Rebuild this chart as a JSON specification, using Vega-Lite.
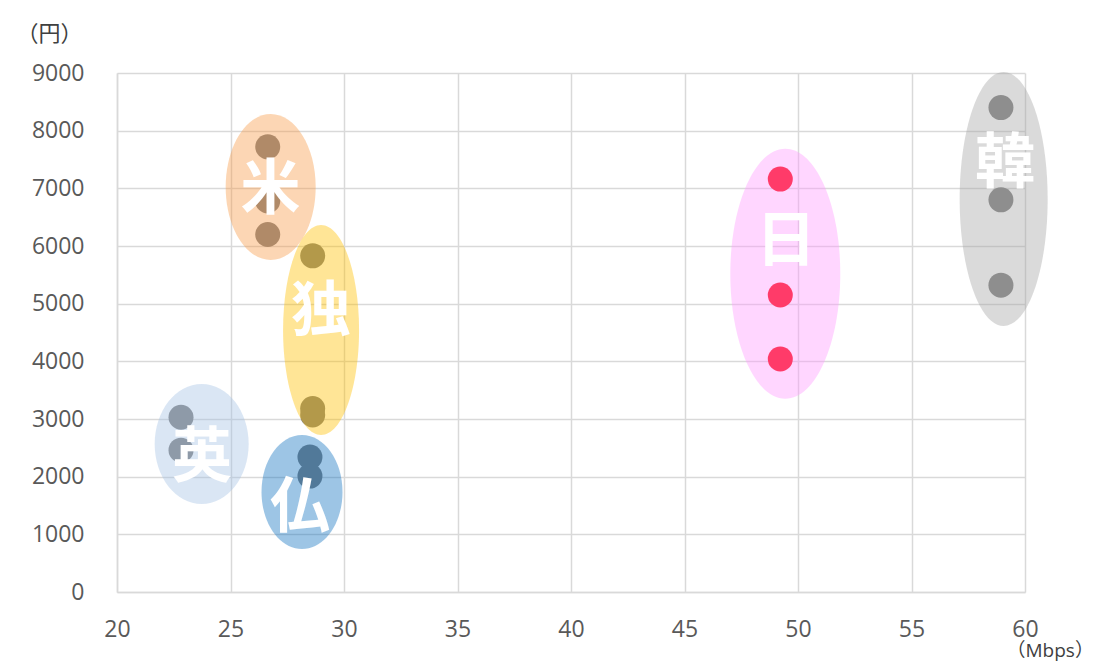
{
  "$schema": "https://vega.github.io/schema/vega-lite/v6.json",
  "width": 908,
  "height": 519,
  "autosize": {"type": "none"},
  "padding": {"left": 117, "top": 73, "right": 70, "bottom": 69},
  "background": "#ffffff",
  "config": {
    "view": {"stroke": null},
    "axis": {
      "grid": true,
      "gridColor": "#D9D9D9",
      "gridWidth": 1.5,
      "domainColor": "#D9D9D9",
      "domainWidth": 1.5,
      "ticks": false,
      "tickSize": 0,
      "labelFlush": false,
      "labelOverlap": false,
      "format": "d",
      "labelFont": "Open Sans",
      "labelFontSize": 23,
      "labelColor": "#595959",
      "titleFont": "Open Sans, Noto Sans CJK JP",
      "titleFontWeight": "normal",
      "titleColor": "#404040"
    }
  },
  "datasets": {
    "carriers": [
      {"country": "米", "speed": 26.64, "price": 7720},
      {"country": "米", "speed": 26.64, "price": 6780},
      {"country": "米", "speed": 26.64, "price": 6200},
      {"country": "独", "speed": 28.62, "price": 5830},
      {"country": "独", "speed": 28.62, "price": 3180},
      {"country": "独", "speed": 28.62, "price": 3070},
      {"country": "英", "speed": 22.82, "price": 3030},
      {"country": "英", "speed": 22.82, "price": 2460},
      {"country": "仏", "speed": 28.5, "price": 2340},
      {"country": "仏", "speed": 28.5, "price": 2010},
      {"country": "日", "speed": 49.22, "price": 7160},
      {"country": "日", "speed": 49.22, "price": 5150},
      {"country": "日", "speed": 49.22, "price": 4040},
      {"country": "韓", "speed": 58.94, "price": 8400},
      {"country": "韓", "speed": 58.94, "price": 6800},
      {"country": "韓", "speed": 58.94, "price": 5320}
    ],
    "groups": [
      {"country": "米", "speed": 26.77, "price": 7023},
      {"country": "独", "speed": 28.99, "price": 4543},
      {"country": "英", "speed": 23.73, "price": 2566},
      {"country": "仏", "speed": 28.15, "price": 1734},
      {"country": "日", "speed": 49.44, "price": 5520},
      {"country": "韓", "speed": 59.06, "price": 6815}
    ],
    "labels": [
      {"country": "米", "speed": 26.76, "price": 7032},
      {"country": "独", "speed": 28.99, "price": 4925},
      {"country": "英", "speed": 23.74, "price": 2393},
      {"country": "仏", "speed": 28.06, "price": 1526},
      {"country": "日", "speed": 49.47, "price": 6139},
      {"country": "韓", "speed": 59.12, "price": 7491}
    ]
  },
  "encoding": {
    "x": {
      "field": "speed",
      "type": "quantitative",
      "scale": {"domain": [20, 60], "nice": false, "zero": false},
      "axis": {
        "values": [20, 25, 30, 35, 40, 45, 50, 55, 60],
        "labelPadding": 26,
        "title": "（Mbps）",
        "titleFontSize": 19,
        "titleAlign": "left",
        "titleBaseline": "alphabetic",
        "titleAnchor": "start",
        "titleX": 889,
        "titleY": 64
      }
    },
    "y": {
      "field": "price",
      "type": "quantitative",
      "scale": {"domain": [0, 9000], "nice": false},
      "axis": {
        "values": [0, 1000, 2000, 3000, 4000, 5000, 6000, 7000, 8000, 9000],
        "labelPadding": 33,
        "title": "（円）",
        "titleFontSize": 22,
        "titleAngle": 0,
        "titleAlign": "left",
        "titleBaseline": "alphabetic",
        "titleAnchor": "start",
        "titleX": -101,
        "titleY": -33
      }
    }
  },
  "layer": [
    {
      "data": {"name": "carriers"},
      "transform": [{"filter": "datum.country !== '日'"}],
      "mark": {"type": "point", "shape": "circle", "filled": true, "size": 625, "color": "#7F7F7F", "opacity": 1, "strokeWidth": 0}
    },
    {
      "data": {"name": "groups"},
      "mark": {"type": "point", "filled": true, "size": 4, "opacity": 0.41, "strokeWidth": 0},
      "encoding": {
        "shape": {
          "field": "country",
          "type": "nominal",
          "legend": null,
          "scale": {
            "domain": ["米", "独", "英", "仏", "日", "韓"],
            "range": [
              "M-45,0A45,73,0,1,0,45,0A45,73,0,1,0,-45,0Z",
              "M-38,0A38,105,0,1,0,38,0A38,105,0,1,0,-38,0Z",
              "M-47,0A47,60,0,1,0,47,0A47,60,0,1,0,-47,0Z",
              "M-40.5,0A40.5,57,0,1,0,40.5,0A40.5,57,0,1,0,-40.5,0Z",
              "M-55,0A55,125,0,1,0,55,0A55,125,0,1,0,-55,0Z",
              "M-44,0A44,127,0,1,0,44,0A44,127,0,1,0,-44,0Z"
            ]
          }
        },
        "color": {
          "field": "country",
          "type": "nominal",
          "legend": null,
          "scale": {
            "domain": ["米", "独", "英", "仏", "日", "韓"],
            "range": ["#F79B48", "#FFBF00", "#A5C2E4", "#1071BF", "#FF9BFF", "#A5A5A5"]
          }
        }
      }
    },
    {
      "data": {"name": "carriers"},
      "transform": [{"filter": "datum.country === '日'"}],
      "mark": {"type": "point", "shape": "circle", "filled": true, "size": 625, "color": "#FF3B69", "opacity": 1, "strokeWidth": 0}
    },
    {
      "data": {"name": "labels"},
      "mark": {"type": "text", "font": "Noto Sans CJK JP", "fontWeight": "bold", "fontSize": 60, "color": "#FFFFFF", "align": "center", "baseline": "middle", "dy": 5},
      "encoding": {"text": {"field": "country"}}
    }
  ]
}
